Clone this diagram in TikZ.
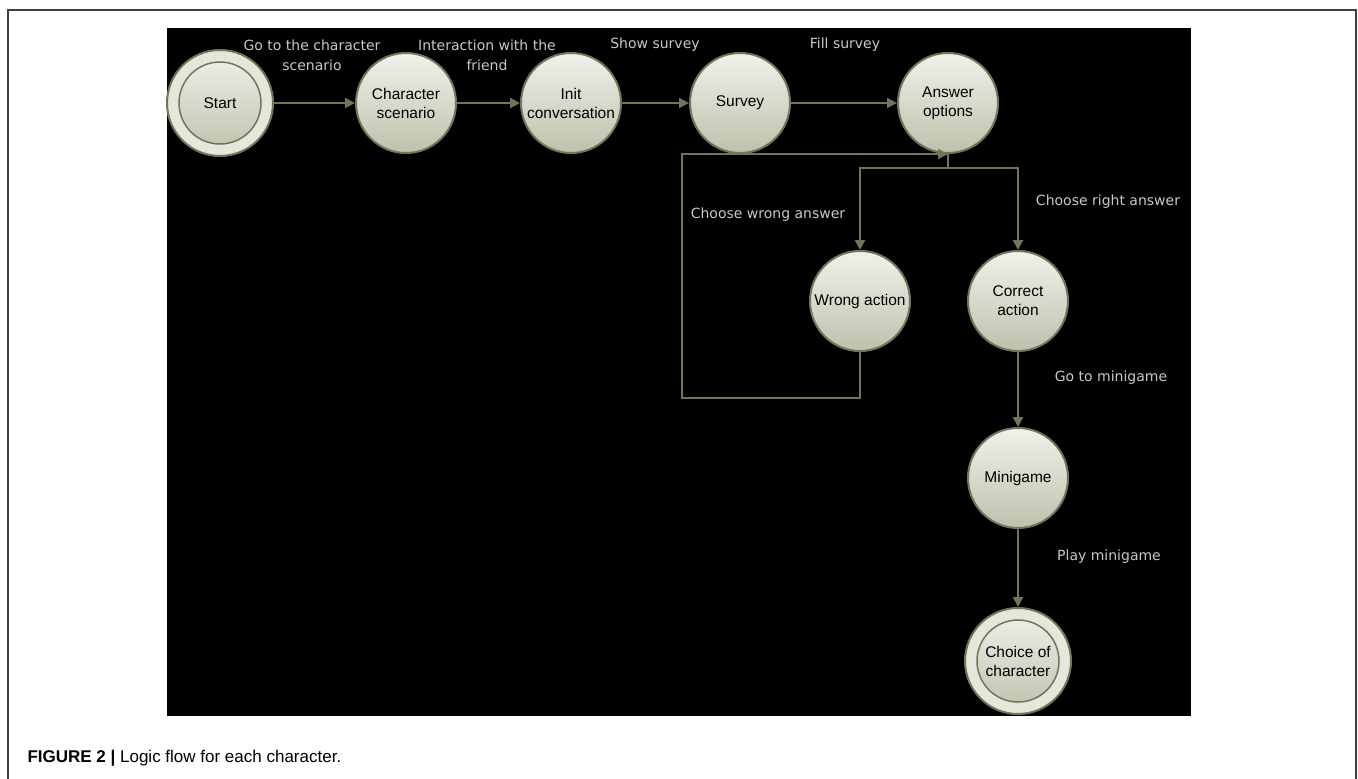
\documentclass[tikz,border=0pt]{standalone}
\usepackage{fontspec}
\setmainfont{Liberation Sans}
\newfontfamily\labelfont{DejaVu Sans}
\usepackage{tikz}
\usetikzlibrary{arrows.meta}
\definecolor{edgegreen}{RGB}{112,118,88}
\definecolor{nodetop}{RGB}{240,242,235}
\definecolor{nodebottom}{RGB}{188,194,172}
\definecolor{ringfill}{RGB}{228,231,218}
\definecolor{labelgray}{RGB}{200,200,196}

\begin{document}
\begin{tikzpicture}[x=1pt,y=-1pt,
	main_node/.style={circle,draw=edgegreen,line width=2pt,top color=nodetop,bottom color=nodebottom,minimum size=100pt,inner sep=0pt,align=center,font=\fontsize{15.5}{19}\selectfont},
	final_node/.style={circle,draw=edgegreen,line width=2pt,fill=ringfill,minimum size=106pt,inner sep=0pt,align=center,font=\fontsize{15.5}{19}\selectfont,
		path picture={\shade[top color=nodetop,bottom color=nodebottom,draw=edgegreen,line width=1.5pt] (path picture bounding box.center) circle[radius=41pt];}},
	arr/.style={draw=edgegreen,line width=2pt,-{Triangle[length=10pt,width=10pt]}},
	edge_label/.style={text=labelgray,align=center,font=\labelfont\fontsize{14}{20}\selectfont}]
	\useasboundingbox (0,0) rectangle (1358,779);
	\draw[black!75,line width=1.2pt] (8,779) -- (8,10) -- (1356,10) -- (1356,779);
	\fill[black] (167,28) rectangle (1191,716);

	\node[final_node] (1) at (220,103) {Start};
	\node[main_node] (2) at (406,103) {Character\\scenario};
	\node[main_node] (3) at (571,103) {Init\\conversation};
	\node[main_node] (4) at (740,103) {Survey};
	\node[main_node] (5) at (948,103) {Answer\\options};
	\node[main_node] (6) at (860,301) {Wrong action};
	\node[main_node] (7) at (1018,301) {Correct\\action};
	\node[main_node] (8) at (1018,478) {Minigame};
	\node[final_node] (9) at (1018,661) {Choice of\\character};
	\coordinate (loop) at (682,398);
	\coordinate (split) at (948,168);

	\draw[arr] (1) -- (2);
	\draw[arr] (2) -- (3);
	\draw[arr] (3) -- (4);
	\draw[arr] (4) -- (5);
	\draw[arr] (6) |- (loop) |- (5.south);
	\draw[draw=edgegreen,line width=2pt] (5.south) -- (split);
	\draw[arr] (split) -| (6);
	\draw[arr] (split) -| (7);
	\draw[arr] (7) -- (8);
	\draw[arr] (8) -- (9);

	\node[edge_label] (l1) at (312,55) {Go to the character\\scenario};
	\node[edge_label] (l2) at (487,55) {Interaction with the\\friend};
	\node[edge_label] (l3) at (655,45) {Show survey};
	\node[edge_label] (l4) at (845,45) {Fill survey};
	\node[edge_label] (l5) at (768,215) {Choose wrong answer};
	\node[edge_label] (l6) at (1108,202) {Choose right answer};
	\node[edge_label] (l7) at (1111,378) {Go to minigame};
	\node[edge_label] (l8) at (1109,557) {Play minigame};

	\node[anchor=west,font=\fontsize{17}{20}\selectfont] (caption) at (24,758) {\textbf{FIGURE 2 |} Logic flow for each character.};
\end{tikzpicture}
\end{document}
